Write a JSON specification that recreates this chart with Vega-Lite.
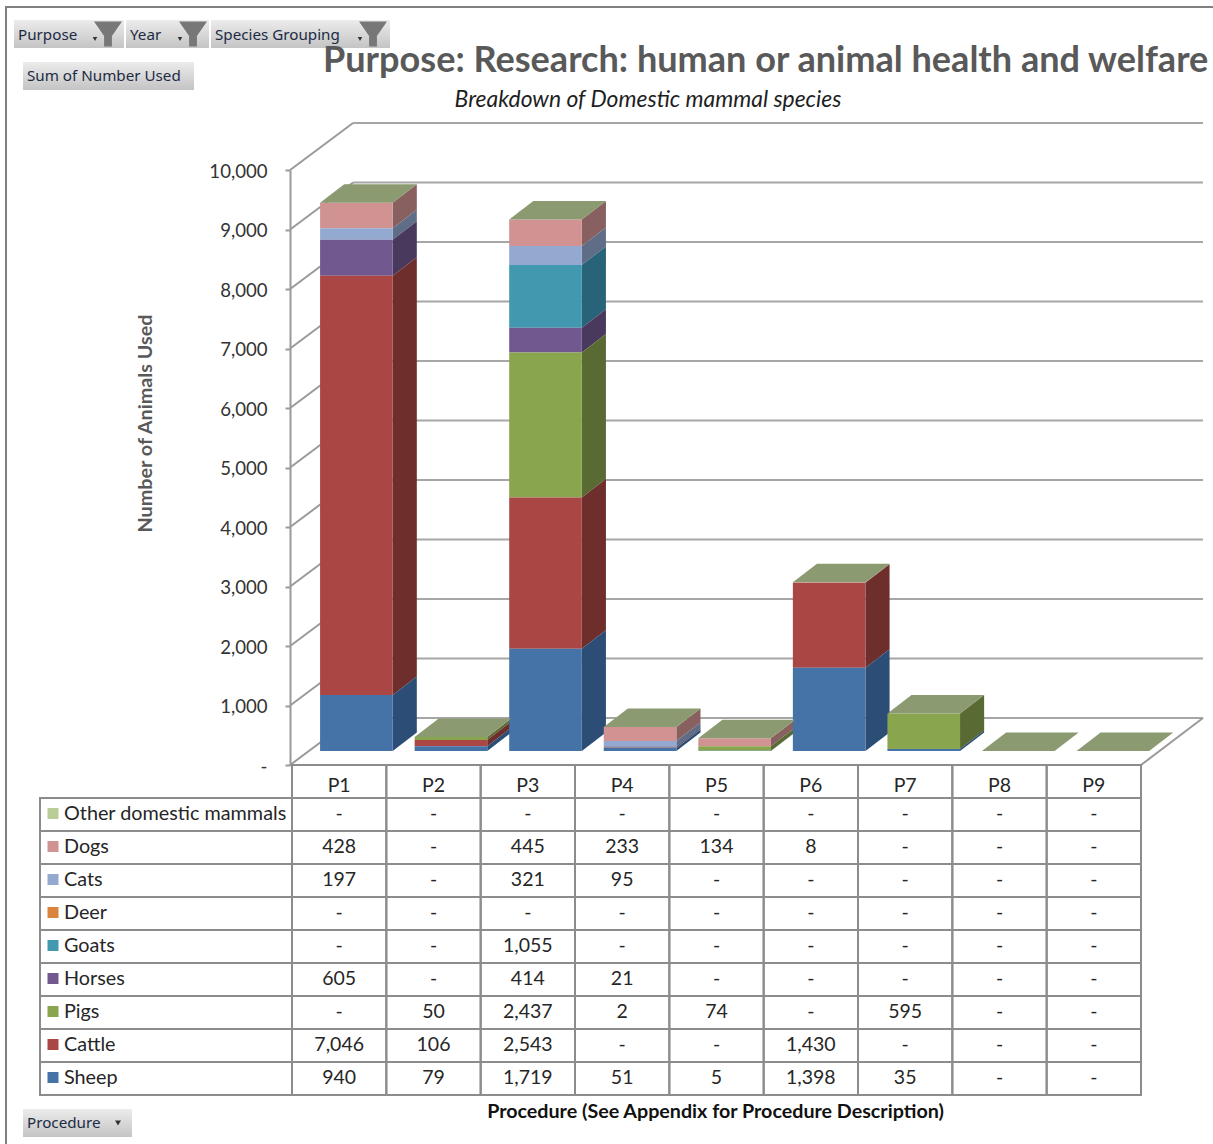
{
  "$schema": "https://vega.github.io/schema/vega-lite/v6.json",
  "width": 1213,
  "height": 1144,
  "padding": 0,
  "autosize": {"type": "none"},
  "background": "#ffffff",
  "view": {"stroke": null},
  "title": {
    "text": "Purpose: Research: human or animal health and welfare",
    "anchor": "start",
    "frame": "group",
    "dx": 323,
    "dy": 108,
    "offset": 0,
    "baseline": "alphabetic",
    "font": "Lato",
    "fontSize": 36.1,
    "fontWeight": "bold",
    "color": "#595959"
  },
  "datasets": {
    "animals": [
      {"procedure":"P1","species":"Other domestic mammals","number":null},{"procedure":"P1","species":"Dogs","number":428},{"procedure":"P1","species":"Cats","number":197},{"procedure":"P1","species":"Deer","number":null},{"procedure":"P1","species":"Goats","number":null},{"procedure":"P1","species":"Horses","number":605},{"procedure":"P1","species":"Pigs","number":null},{"procedure":"P1","species":"Cattle","number":7046},{"procedure":"P1","species":"Sheep","number":940},
      {"procedure":"P2","species":"Other domestic mammals","number":null},{"procedure":"P2","species":"Dogs","number":null},{"procedure":"P2","species":"Cats","number":null},{"procedure":"P2","species":"Deer","number":null},{"procedure":"P2","species":"Goats","number":null},{"procedure":"P2","species":"Horses","number":null},{"procedure":"P2","species":"Pigs","number":50},{"procedure":"P2","species":"Cattle","number":106},{"procedure":"P2","species":"Sheep","number":79},
      {"procedure":"P3","species":"Other domestic mammals","number":null},{"procedure":"P3","species":"Dogs","number":445},{"procedure":"P3","species":"Cats","number":321},{"procedure":"P3","species":"Deer","number":null},{"procedure":"P3","species":"Goats","number":1055},{"procedure":"P3","species":"Horses","number":414},{"procedure":"P3","species":"Pigs","number":2437},{"procedure":"P3","species":"Cattle","number":2543},{"procedure":"P3","species":"Sheep","number":1719},
      {"procedure":"P4","species":"Other domestic mammals","number":null},{"procedure":"P4","species":"Dogs","number":233},{"procedure":"P4","species":"Cats","number":95},{"procedure":"P4","species":"Deer","number":null},{"procedure":"P4","species":"Goats","number":null},{"procedure":"P4","species":"Horses","number":21},{"procedure":"P4","species":"Pigs","number":2},{"procedure":"P4","species":"Cattle","number":null},{"procedure":"P4","species":"Sheep","number":51},
      {"procedure":"P5","species":"Other domestic mammals","number":null},{"procedure":"P5","species":"Dogs","number":134},{"procedure":"P5","species":"Cats","number":null},{"procedure":"P5","species":"Deer","number":null},{"procedure":"P5","species":"Goats","number":null},{"procedure":"P5","species":"Horses","number":null},{"procedure":"P5","species":"Pigs","number":74},{"procedure":"P5","species":"Cattle","number":null},{"procedure":"P5","species":"Sheep","number":5},
      {"procedure":"P6","species":"Other domestic mammals","number":null},{"procedure":"P6","species":"Dogs","number":8},{"procedure":"P6","species":"Cats","number":null},{"procedure":"P6","species":"Deer","number":null},{"procedure":"P6","species":"Goats","number":null},{"procedure":"P6","species":"Horses","number":null},{"procedure":"P6","species":"Pigs","number":null},{"procedure":"P6","species":"Cattle","number":1430},{"procedure":"P6","species":"Sheep","number":1398},
      {"procedure":"P7","species":"Other domestic mammals","number":null},{"procedure":"P7","species":"Dogs","number":null},{"procedure":"P7","species":"Cats","number":null},{"procedure":"P7","species":"Deer","number":null},{"procedure":"P7","species":"Goats","number":null},{"procedure":"P7","species":"Horses","number":null},{"procedure":"P7","species":"Pigs","number":595},{"procedure":"P7","species":"Cattle","number":null},{"procedure":"P7","species":"Sheep","number":35},
      {"procedure":"P8","species":"Other domestic mammals","number":null},{"procedure":"P8","species":"Dogs","number":null},{"procedure":"P8","species":"Cats","number":null},{"procedure":"P8","species":"Deer","number":null},{"procedure":"P8","species":"Goats","number":null},{"procedure":"P8","species":"Horses","number":null},{"procedure":"P8","species":"Pigs","number":null},{"procedure":"P8","species":"Cattle","number":null},{"procedure":"P8","species":"Sheep","number":null},
      {"procedure":"P9","species":"Other domestic mammals","number":null},{"procedure":"P9","species":"Dogs","number":null},{"procedure":"P9","species":"Cats","number":null},{"procedure":"P9","species":"Deer","number":null},{"procedure":"P9","species":"Goats","number":null},{"procedure":"P9","species":"Horses","number":null},{"procedure":"P9","species":"Pigs","number":null},{"procedure":"P9","species":"Cattle","number":null},{"procedure":"P9","species":"Sheep","number":null}
    ],
    "ticks": [{"tick":0},{"tick":1000},{"tick":2000},{"tick":3000},{"tick":4000},{"tick":5000},{"tick":6000},{"tick":7000},{"tick":8000},{"tick":9000},{"tick":10000}]
  },
  "resolve": {"scale": {"x": "independent", "y": "independent", "color": "independent"}},
  "layer": [
    {
      "data": {"values": [{"part": "sheet"}]},
      "mark": {"type": "rect", "fill": null, "stroke": "#808080", "strokeWidth": 2},
      "encoding": {
        "x": {"datum": 0, "type": "quantitative", "axis": null, "scale": {"domain": [0, 1], "range": [6, 1220], "nice": false, "zero": false}},
        "x2": {"datum": 1},
        "y": {"datum": 0, "type": "quantitative", "axis": null, "scale": {"domain": [0, 1], "range": [7, 1160], "nice": false, "zero": false}},
        "y2": {"datum": 1}
      }
    },
    {
      "data": {"name": "ticks"},
      "transform": [{"calculate": "datum.tick + 790", "as": "back"}],
      "mark": {"type": "rule", "color": "#a6a6a6", "strokeWidth": 2},
      "encoding": {
        "x": {"datum": 0.647, "type": "quantitative", "axis": null, "scale": {"domain": [0, 9], "range": [292, 1141], "nice": false, "zero": false}},
        "x2": {"datum": 9.657},
        "y": {"field": "back", "type": "quantitative", "axis": null, "scale": {"domain": [0, 10000], "range": [765, 170], "nice": false, "zero": false}}
      }
    },
    {
      "data": {"name": "ticks"},
      "transform": [{"calculate": "datum.tick + 790", "as": "back"}],
      "mark": {"type": "rule", "color": "#9a9a9a", "strokeWidth": 2},
      "encoding": {
        "x": {"datum": -0.02, "type": "quantitative", "axis": null, "scale": {"domain": [0, 9], "range": [292, 1141], "nice": false, "zero": false}},
        "x2": {"datum": 0.647},
        "y": {
          "field": "tick",
          "type": "quantitative",
          "title": "Number of Animals Used",
          "scale": {"domain": [0, 10000], "range": [765, 170], "nice": false, "zero": false},
          "axis": {
            "orient": "left",
            "offset": -290,
            "values": [0, 1000, 2000, 3000, 4000, 5000, 6000, 7000, 8000, 9000, 10000],
            "labelExpr": "datum.value === 0 ? '-' : format(datum.value, ',')",
            "grid": false,
            "domainColor": "#9a9a9a",
            "domainWidth": 2,
            "tickColor": "#9a9a9a",
            "tickWidth": 2,
            "tickSize": 5,
            "labelFont": "Lato",
            "labelFontSize": 18.6,
            "labelColor": "#333333",
            "labelPadding": 18,
            "labelOffset": 1,
            "titleFont": "Lato",
            "titleFontSize": 19.8,
            "titleFontWeight": "bold",
            "titleColor": "#595959",
            "titleX": -145,
            "titleY": 423,
            "titleAngle": -90,
            "titleAlign": "center",
            "titleBaseline": "middle"
          }
        },
        "y2": {"field": "back"}
      }
    },
    {
      "data": {"name": "ticks"},
      "transform": [{"filter": "datum.tick === 0"}, {"calculate": "datum.tick + 790", "as": "back"}],
      "mark": {"type": "rule", "color": "#9a9a9a", "strokeWidth": 2},
      "encoding": {
        "x": {"datum": 9, "type": "quantitative", "axis": null, "scale": {"domain": [0, 9], "range": [292, 1141], "nice": false, "zero": false}},
        "x2": {"datum": 9.657},
        "y": {"field": "tick", "type": "quantitative", "axis": null, "scale": {"domain": [0, 10000], "range": [765, 170], "nice": false, "zero": false}},
        "y2": {"field": "back"}
      }
    },
    {
      "data": {"name": "animals"},
      "transform": [
        {"calculate": "indexof(['Sheep','Cattle','Pigs','Horses','Goats','Deer','Cats','Dogs','Other domestic mammals'], datum.species)", "as": "order"},
        {"stack": "number", "groupby": ["procedure"], "sort": [{"field": "order", "order": "ascending"}], "as": ["v0", "v1"]},
        {"calculate": "indexof(['P1','P2','P3','P4','P5','P6','P7','P8','P9'], datum.procedure)", "as": "slot"},
        {"calculate": "datum.slot + 0.297", "as": "left"},
        {"calculate": "datum.slot + 1.065", "as": "right"},
        {"calculate": "datum.v0 + 235", "as": "low"},
        {"calculate": "datum.v1 + 235", "as": "high"}
      ],
      "resolve": {"scale": {"color": "independent"}},
      "layer": [
        {
          "transform": [
            {"filter": "datum.number > 0"},
            {"calculate": "[0, 1]", "as": "corner"},
            {"flatten": ["corner"]},
            {"calculate": "datum.right + datum.corner * 0.255", "as": "sideX"},
            {"calculate": "datum.low + datum.corner * 311", "as": "sideLow"},
            {"calculate": "datum.high + datum.corner * 311", "as": "sideHigh"}
          ],
          "mark": {"type": "area", "orient": "vertical", "interpolate": "linear"},
          "encoding": {
            "x": {"field": "sideX", "type": "quantitative", "axis": null, "scale": {"domain": [0, 9], "range": [292, 1143], "nice": false, "zero": false}},
            "y": {"field": "sideHigh", "type": "quantitative", "stack": null, "axis": null, "scale": {"domain": [0, 10000], "range": [765, 170], "nice": false, "zero": false}},
            "y2": {"field": "sideLow"},
            "detail": {"field": "procedure"},
            "color": {
              "field": "species",
              "type": "nominal",
              "legend": null,
              "scale": {
                "domain": ["Other domestic mammals","Dogs","Cats","Deer","Goats","Horses","Pigs","Cattle","Sheep"],
                "range": ["#78855f","#88605f","#5f6e86","#8e5628","#29637a","#49395d","#596b32","#6e2e2c","#2c4d75"]
              }
            }
          }
        },
        {
          "transform": [{"filter": "datum.number > 0"}],
          "mark": {"type": "rect"},
          "encoding": {
            "x": {"field": "left", "type": "quantitative", "axis": null, "scale": {"domain": [0, 9], "range": [292, 1143], "nice": false, "zero": false}},
            "x2": {"field": "right"},
            "y": {"field": "low", "type": "quantitative", "axis": null, "scale": {"domain": [0, 10000], "range": [765, 170], "nice": false, "zero": false}},
            "y2": {"field": "high"},
            "color": {
              "field": "species",
              "type": "nominal",
              "legend": null,
              "scale": {
                "domain": ["Other domestic mammals","Dogs","Cats","Deer","Goats","Horses","Pigs","Cattle","Sheep"],
                "range": ["#b9cd96","#d19392","#93a9cf","#db843d","#4198af","#71588f","#89a54e","#aa4643","#4572a7"]
              }
            }
          }
        },
        {
          "transform": [
            {"aggregate": [{"op": "max", "field": "high", "as": "roof"}, {"op": "min", "field": "left", "as": "roofLeft"}, {"op": "min", "field": "right", "as": "roofRight"}], "groupby": ["procedure"]},
            {"calculate": "[0, 1]", "as": "corner"},
            {"flatten": ["corner"]},
            {"calculate": "datum.roofLeft + datum.corner * 0.255", "as": "topLeft"},
            {"calculate": "datum.roofRight + datum.corner * 0.255", "as": "topRight"},
            {"calculate": "datum.roof + datum.corner * 311", "as": "topY"}
          ],
          "mark": {"type": "area", "orient": "horizontal", "interpolate": "linear", "color": "#8b9a70"},
          "encoding": {
            "x": {"field": "topLeft", "type": "quantitative", "stack": null, "axis": null, "scale": {"domain": [0, 9], "range": [292, 1143], "nice": false, "zero": false}},
            "x2": {"field": "topRight"},
            "y": {"field": "topY", "type": "quantitative", "axis": null, "scale": {"domain": [0, 10000], "range": [765, 170], "nice": false, "zero": false}},
            "detail": {"field": "procedure"}
          }
        }
      ]
    },
    {
      "data": {"name": "animals"},
      "transform": [{"calculate": "isValid(datum.number) ? format(datum.number, ',') : '-'", "as": "cell"}],
      "encoding": {
        "x": {"field": "procedure", "type": "nominal", "axis": null, "scale": {"type": "band", "domain": ["P1","P2","P3","P4","P5","P6","P7","P8","P9"], "range": [292, 1141], "paddingInner": 0, "paddingOuter": 0}},
        "y": {"field": "species", "type": "nominal", "axis": null, "scale": {"type": "band", "domain": ["Procedure","Other domestic mammals","Dogs","Cats","Deer","Goats","Horses","Pigs","Cattle","Sheep"], "range": [765, 1095], "paddingInner": 0, "paddingOuter": 0}}
      },
      "layer": [
        {"mark": {"type": "rect", "fill": null, "stroke": "#8c8c8c", "strokeWidth": 2}},
        {
          "mark": {"type": "text", "font": "Lato", "fontSize": 19.5, "color": "#262626", "dy": -1},
          "encoding": {"text": {"field": "cell", "type": "nominal"}}
        },
        {
          "transform": [{"filter": "datum.species === 'Sheep'"}],
          "mark": {"type": "rect", "fill": null, "stroke": "#8c8c8c", "strokeWidth": 2},
          "encoding": {"y": {"datum": "Procedure", "type": "nominal", "axis": null}}
        },
        {
          "transform": [{"filter": "datum.species === 'Sheep'"}],
          "mark": {"type": "text", "font": "Lato", "fontSize": 19.5, "color": "#262626", "dy": 4},
          "encoding": {
            "y": {"datum": "Procedure", "type": "nominal", "axis": null},
            "text": {"field": "procedure", "type": "nominal"}
          }
        }
      ]
    },
    {
      "data": {"name": "animals"},
      "transform": [{"filter": "datum.procedure === 'P1'"}],
      "encoding": {
        "y": {"field": "species", "type": "nominal", "axis": null, "scale": {"type": "band", "domain": ["Other domestic mammals","Dogs","Cats","Deer","Goats","Horses","Pigs","Cattle","Sheep"], "range": [798, 1095], "paddingInner": 0, "paddingOuter": 0}}
      },
      "layer": [
        {
          "mark": {"type": "rect", "fill": null, "stroke": "#8c8c8c", "strokeWidth": 2},
          "encoding": {
            "x": {"datum": "Series", "type": "nominal", "axis": null, "scale": {"type": "band", "domain": ["Series"], "range": [40, 292], "paddingInner": 0, "paddingOuter": 0}}
          }
        },
        {
          "mark": {"type": "point", "shape": "square", "filled": true, "size": 121, "opacity": 1, "xOffset": 13, "yOffset": -1},
          "encoding": {
            "x": {"datum": "Series", "type": "nominal", "bandPosition": 0, "axis": null, "scale": {"type": "band", "domain": ["Series"], "range": [40, 292], "paddingInner": 0, "paddingOuter": 0}},
            "color": {
              "field": "species",
              "type": "nominal",
              "legend": null,
              "scale": {
                "domain": ["Other domestic mammals","Dogs","Cats","Deer","Goats","Horses","Pigs","Cattle","Sheep"],
                "range": ["#b9cd96","#d19392","#93a9cf","#db843d","#4198af","#71588f","#89a54e","#aa4643","#4572a7"]
              }
            }
          }
        },
        {
          "mark": {"type": "text", "font": "Lato", "fontSize": 19.8, "color": "#262626", "align": "left", "dx": 24, "dy": -1},
          "encoding": {
            "x": {"datum": "Series", "type": "nominal", "bandPosition": 0, "axis": null, "scale": {"type": "band", "domain": ["Series"], "range": [40, 292], "paddingInner": 0, "paddingOuter": 0}},
            "text": {"field": "species", "type": "nominal"}
          }
        }
      ]
    },
    {
      "data": {"values": [{"label": "Procedure (See Appendix for Procedure Description)"}]},
      "mark": {"type": "text", "font": "Lato", "fontSize": 19.7, "fontWeight": "bold", "color": "#111111"},
      "encoding": {
        "x": {"field": "label", "type": "nominal", "axis": null, "scale": {"type": "band", "range": [292, 1139]}},
        "y": {"field": "label", "type": "nominal", "axis": null, "scale": {"type": "band", "range": [1098, 1126]}},
        "text": {"field": "label", "type": "nominal"}
      }
    },
    {
      "data": {"values": [{"label": "Breakdown of Domestic mammal species"}]},
      "mark": {"type": "text", "font": "Lato", "fontSize": 22.9, "fontStyle": "italic", "color": "#1f1f1f"},
      "encoding": {
        "x": {"field": "label", "type": "nominal", "axis": null, "scale": {"type": "band", "range": [448, 848]}},
        "y": {"field": "label", "type": "nominal", "axis": null, "scale": {"type": "band", "range": [86, 114]}},
        "text": {"field": "label", "type": "nominal"}
      }
    },
    {
      "data": {"values": [{"label": "Purpose"}]},
      "encoding": {
        "x": {"field": "label", "type": "nominal", "axis": null, "scale": {"type": "band", "range": [14, 124]}},
        "y": {"field": "label", "type": "nominal", "axis": null, "scale": {"type": "band", "range": [20, 48]}}
      },
      "layer": [
        {"mark": {"type": "rect", "fill": {"gradient": "linear", "x1": 0, "y1": 0, "x2": 0, "y2": 1, "stops": [{"offset": 0, "color": "#ececec"}, {"offset": 1, "color": "#c4c4c4"}]}}},
        {"mark": {"type": "text", "font": "Noto Sans", "fontSize": 15.2, "color": "#1c2a44", "align": "left", "dx": 4, "dy": 1}, "encoding": {"x": {"field": "label", "type": "nominal", "bandPosition": 0, "axis": null}, "text": {"field": "label", "type": "nominal"}}},
        {"mark": {"type": "point", "shape": "triangle-down", "filled": true, "size": 20, "color": "#333333", "opacity": 1, "xOffset": 81, "yOffset": 5}, "encoding": {"x": {"field": "label", "type": "nominal", "bandPosition": 0, "axis": null}}},
        {"mark": {"type": "point", "shape": "M-1,-0.9L1,-0.9L0.28,0.15L0.28,0.9L-0.28,0.9L-0.28,0.15Z", "filled": true, "size": 784, "color": "#777777", "opacity": 1, "xOffset": 94}, "encoding": {"x": {"field": "label", "type": "nominal", "bandPosition": 0, "axis": null}}}
      ]
    },
    {
      "data": {"values": [{"label": "Year"}]},
      "encoding": {
        "x": {"field": "label", "type": "nominal", "axis": null, "scale": {"type": "band", "range": [126, 209]}},
        "y": {"field": "label", "type": "nominal", "axis": null, "scale": {"type": "band", "range": [20, 48]}}
      },
      "layer": [
        {"mark": {"type": "rect", "fill": {"gradient": "linear", "x1": 0, "y1": 0, "x2": 0, "y2": 1, "stops": [{"offset": 0, "color": "#ececec"}, {"offset": 1, "color": "#c4c4c4"}]}}},
        {"mark": {"type": "text", "font": "Noto Sans", "fontSize": 15.2, "color": "#1c2a44", "align": "left", "dx": 4, "dy": 1}, "encoding": {"x": {"field": "label", "type": "nominal", "bandPosition": 0, "axis": null}, "text": {"field": "label", "type": "nominal"}}},
        {"mark": {"type": "point", "shape": "triangle-down", "filled": true, "size": 20, "color": "#333333", "opacity": 1, "xOffset": 54, "yOffset": 5}, "encoding": {"x": {"field": "label", "type": "nominal", "bandPosition": 0, "axis": null}}},
        {"mark": {"type": "point", "shape": "M-1,-0.9L1,-0.9L0.28,0.15L0.28,0.9L-0.28,0.9L-0.28,0.15Z", "filled": true, "size": 784, "color": "#777777", "opacity": 1, "xOffset": 67}, "encoding": {"x": {"field": "label", "type": "nominal", "bandPosition": 0, "axis": null}}}
      ]
    },
    {
      "data": {"values": [{"label": "Species Grouping"}]},
      "encoding": {
        "x": {"field": "label", "type": "nominal", "axis": null, "scale": {"type": "band", "range": [211, 390]}},
        "y": {"field": "label", "type": "nominal", "axis": null, "scale": {"type": "band", "range": [20, 48]}}
      },
      "layer": [
        {"mark": {"type": "rect", "fill": {"gradient": "linear", "x1": 0, "y1": 0, "x2": 0, "y2": 1, "stops": [{"offset": 0, "color": "#ececec"}, {"offset": 1, "color": "#c4c4c4"}]}}},
        {"mark": {"type": "text", "font": "Noto Sans", "fontSize": 15.2, "color": "#1c2a44", "align": "left", "dx": 4, "dy": 1}, "encoding": {"x": {"field": "label", "type": "nominal", "bandPosition": 0, "axis": null}, "text": {"field": "label", "type": "nominal"}}},
        {"mark": {"type": "point", "shape": "triangle-down", "filled": true, "size": 20, "color": "#333333", "opacity": 1, "xOffset": 149, "yOffset": 5}, "encoding": {"x": {"field": "label", "type": "nominal", "bandPosition": 0, "axis": null}}},
        {"mark": {"type": "point", "shape": "M-1,-0.9L1,-0.9L0.28,0.15L0.28,0.9L-0.28,0.9L-0.28,0.15Z", "filled": true, "size": 784, "color": "#777777", "opacity": 1, "xOffset": 162}, "encoding": {"x": {"field": "label", "type": "nominal", "bandPosition": 0, "axis": null}}}
      ]
    },
    {
      "data": {"values": [{"label": "Sum of Number Used"}]},
      "encoding": {
        "x": {"field": "label", "type": "nominal", "axis": null, "scale": {"type": "band", "range": [23, 194]}},
        "y": {"field": "label", "type": "nominal", "axis": null, "scale": {"type": "band", "range": [62, 90]}}
      },
      "layer": [
        {"mark": {"type": "rect", "fill": {"gradient": "linear", "x1": 0, "y1": 0, "x2": 0, "y2": 1, "stops": [{"offset": 0, "color": "#ececec"}, {"offset": 1, "color": "#c4c4c4"}]}}},
        {"mark": {"type": "text", "font": "Noto Sans", "fontSize": 15.2, "color": "#1c2a44", "align": "left", "dx": 4}, "encoding": {"x": {"field": "label", "type": "nominal", "bandPosition": 0, "axis": null}, "text": {"field": "label", "type": "nominal"}}}
      ]
    },
    {
      "data": {"values": [{"label": "Procedure"}]},
      "encoding": {
        "x": {"field": "label", "type": "nominal", "axis": null, "scale": {"type": "band", "range": [23, 132]}},
        "y": {"field": "label", "type": "nominal", "axis": null, "scale": {"type": "band", "range": [1109, 1137]}}
      },
      "layer": [
        {"mark": {"type": "rect", "fill": {"gradient": "linear", "x1": 0, "y1": 0, "x2": 0, "y2": 1, "stops": [{"offset": 0, "color": "#ececec"}, {"offset": 1, "color": "#c4c4c4"}]}}},
        {"mark": {"type": "text", "font": "Noto Sans", "fontSize": 15.2, "color": "#1c2a44", "align": "left", "dx": 4}, "encoding": {"x": {"field": "label", "type": "nominal", "bandPosition": 0, "axis": null}, "text": {"field": "label", "type": "nominal"}}},
        {"mark": {"type": "point", "shape": "triangle-down", "filled": true, "size": 36, "color": "#333333", "opacity": 1, "xOffset": 95}, "encoding": {"x": {"field": "label", "type": "nominal", "bandPosition": 0, "axis": null}}}
      ]
    }
  ]
}
